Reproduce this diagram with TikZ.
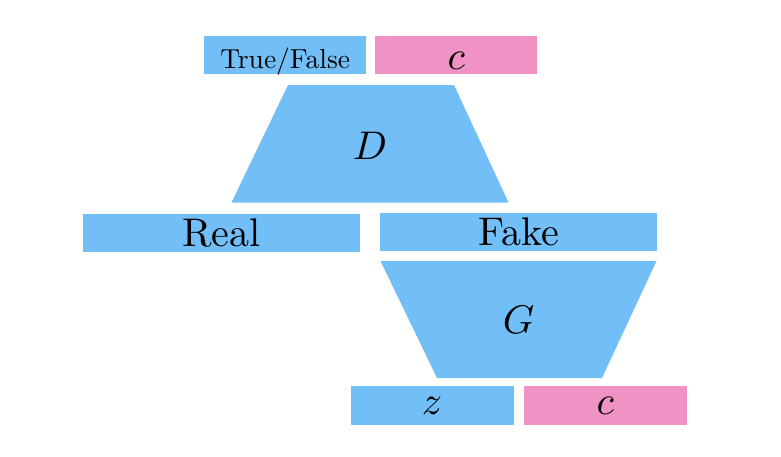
\documentclass[tikz,border=0pt]{standalone}
\usepackage{tikz}
\usepackage{graphicx}

\definecolor{ganblue}{RGB}{114,191,248}
\definecolor{ganpink}{RGB}{240,147,196}

% labels are 10pt type, blown up
\newcommand{\lbl}[1]{\scalebox{4}{#1}}
\newcommand{\smalllbl}[1]{\scalebox{2.75}{#1}}

\tikzset{
	block/.style={fill=ganblue, inner sep=0pt, minimum height=38pt},
	smallbox/.style={block, minimum width=162pt},
	widebox/.style={block, minimum width=277pt},
	condbox/.style={smallbox, fill=ganpink},
}

\begin{document}
\begin{tikzpicture}[x=1pt, y=-1pt]
	\useasboundingbox (0,0) rectangle (781,456);
	
	% discriminator and generator bodies
	\fill[ganblue] (288,85) -- (454,85) -- (508.5,202.5) -- (231.5,202.5) -- cycle;
	\fill[ganblue] (380.5,261) -- (656.5,261) -- (602,378) -- (437,378) -- cycle;
	\node (D) at (370,146) {\lbl{$D$}};
	\node (G) at (518.5,320) {\lbl{$G$}};
	
	% output of D
	\node[smallbox, text height=27pt, text depth=0pt] (out) at (285.2,55) {\smalllbl{True/False}};
	\node[condbox, text height=28pt, text depth=0pt] (cout) at (456.2,55) {\lbl{$c$}};
	
	% inputs of D
	\foreach \name/\x/\y/\txt in {real/221.5/233/Real, fake/518.7/232/Fake}
	\node[widebox] (\name) at (\x,\y) {\lbl{\txt}};
	
	% inputs of G
	\node[smallbox, minimum width=163pt, minimum height=39pt] (z) at (432.1,405.5) {\lbl{$z$}};
	\node[condbox, minimum width=163pt, minimum height=39pt] (cin) at (605.2,405.5) {\lbl{$c$}};
\end{tikzpicture}
\end{document}
